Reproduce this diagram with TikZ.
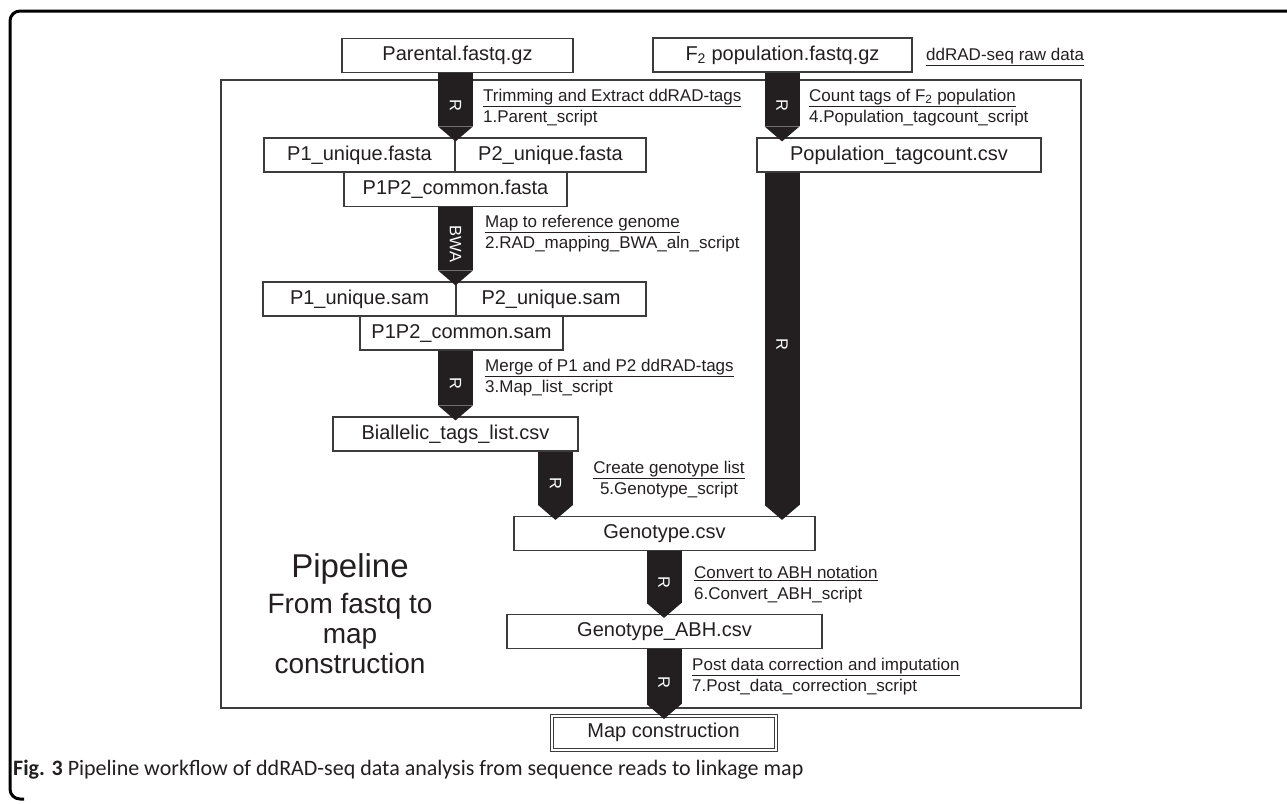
\documentclass[tikz,border=0pt]{standalone}
\usepackage{fontspec}
\setmainfont{Liberation Sans}
\newfontfamily\capfont{Carlito}
\usetikzlibrary{arrows.meta}
\definecolor{ink}{HTML}{231F20}
\definecolor{rim}{HTML}{3C3C3C}
\newcommand\steptext[3][l]{\begin{tabular}{@{}#1@{}}\underline{#2}\\#3\end{tabular}}

\begin{document}
\begin{tikzpicture}[x=1pt,y=-1pt,
  filebox/.style={draw=rim,fill=white,line width=1.2pt,minimum height=34pt,inner sep=0pt,text=ink,font=\fontsize{20}{24}\selectfont},
  flow/.style={draw=ink,line width=35pt,-{Triangle[width=35pt,length=15pt,line width=0pt]},shorten >=-4pt},
  tool/.style={text=white,rotate=-90,inner sep=0pt,font=\fontsize{16.5}{18}\selectfont},
  scriptlabel/.style={anchor=west,inner sep=0pt,text=ink,font=\fontsize{17}{21}\selectfont}]
\useasboundingbox (0,0) rectangle (1287,803);

\draw[line width=3pt,rounded corners=10pt] (1290,11) -- (10,11) -- (10,799) -- (24,799);
\draw[rim,line width=1.2pt] (221,80) rectangle (1081,708);

\coordinate (colA) at (455.5,0);
\coordinate (colB) at (782,0);
\coordinate (colC) at (555.5,0);
\coordinate (colD) at (664,0);

\foreach \n/\x/\y/\w/\t in {parent/457.5/55.5/231/Parental.fastq.gz,
  f2pop/782.5/55/259/F\textsubscript{2} population.fastq.gz,
  p1fa/359.5/155/191/P1\_unique.fasta, p2fa/550.5/155/191/P2\_unique.fasta,
  cofa/455.5/189.5/223/P1P2\_common.fasta,
  p1sam/359.5/299/193/P1\_unique.sam, p2sam/551/299/190/P2\_unique.sam,
  cosam/461.5/333/203/P1P2\_common.sam,
  bial/455.5/434/245/Biallelic\_tags\_list.csv,
  popc/899/155/284/Population\_tagcount.csv,
  geno/664.5/533.5/301/Genotype.csv,
  abh/664.5/631.5/315/Genotype\_ABH.csv}{
  \node[filebox,minimum width=\w pt] (\n) at (\x,\y) {\t};}

\node[filebox,double=white,double distance=2pt,line width=1pt,minimum width=224pt,minimum height=34pt] (mapc) at (663.5,732.5) {Map construction};

\draw[flow] (parent.south -| colA) -- (p1fa.north -| colA) node[midway,tool] {R};
\draw[flow] (f2pop.south -| colB) -- (popc.north -| colB) node[midway,tool] {R};
\draw[flow] (cofa.south -| colA) -- (p1sam.north -| colA) node[midway,tool] {BWA};
\draw[flow] (cosam.south -| colA) -- (bial.north -| colA) node[midway,tool] {R};
\draw[flow] (bial.south -| colC) -- (geno.north -| colC) node[midway,tool] {R};
\draw[flow] (popc.south -| colB) -- (geno.north -| colB) node[midway,tool] {R};
\draw[flow] (geno.south -| colD) -- (abh.north -| colD) node[midway,tool] {R};
\draw[flow] (abh.south -| colD) -- (mapc.north -| colD) node[midway,tool] {R};

\node[scriptlabel] (rawlab) at (926,57) {\underline{ddRAD-seq raw data}};
\node[scriptlabel] (trimlab) at (483,107.5) {\steptext{Trimming and Extract ddRAD-tags}{1.Parent\_script}};
\node[scriptlabel] (countlab) at (809,107.5) {\steptext{Count tags of F\textsubscript{2} population}{4.Population\_tagcount\_script}};
\node[scriptlabel] (maplab) at (485,234) {\steptext{Map to reference genome}{2.RAD\_mapping\_BWA\_aln\_script}};
\node[scriptlabel] (mergelab) at (485,378) {\steptext{Merge of P1 and P2 ddRAD-tags}{3.Map\_list\_script}};
\node[scriptlabel,anchor=center] (genolab) at (669,480) {\steptext[c]{Create genotype list}{5.Genotype\_script}};
\node[scriptlabel] (abhlab) at (694,585) {\steptext{Convert to ABH notation}{6.Convert\_ABH\_script}};
\node[scriptlabel] (postlab) at (692,676.5) {\steptext{Post data correction and imputation}{7.Post\_data\_correction\_script}};

\node[anchor=north,align=center,text=ink,inner sep=0pt,font=\fontsize{28}{30}\selectfont] (title) at (350,553) {{\fontsize{33}{36}\selectfont Pipeline}\\[6pt]From fastq to\\map\\construction};

\node[anchor=base west,inner sep=0pt,text=ink,font=\capfont\fontsize{22}{25}\selectfont] (caption) at (13,775) {\textbf{Fig. 3} Pipeline workflow of ddRAD-seq data analysis from sequence reads to linkage map};
\end{tikzpicture}
\end{document}
